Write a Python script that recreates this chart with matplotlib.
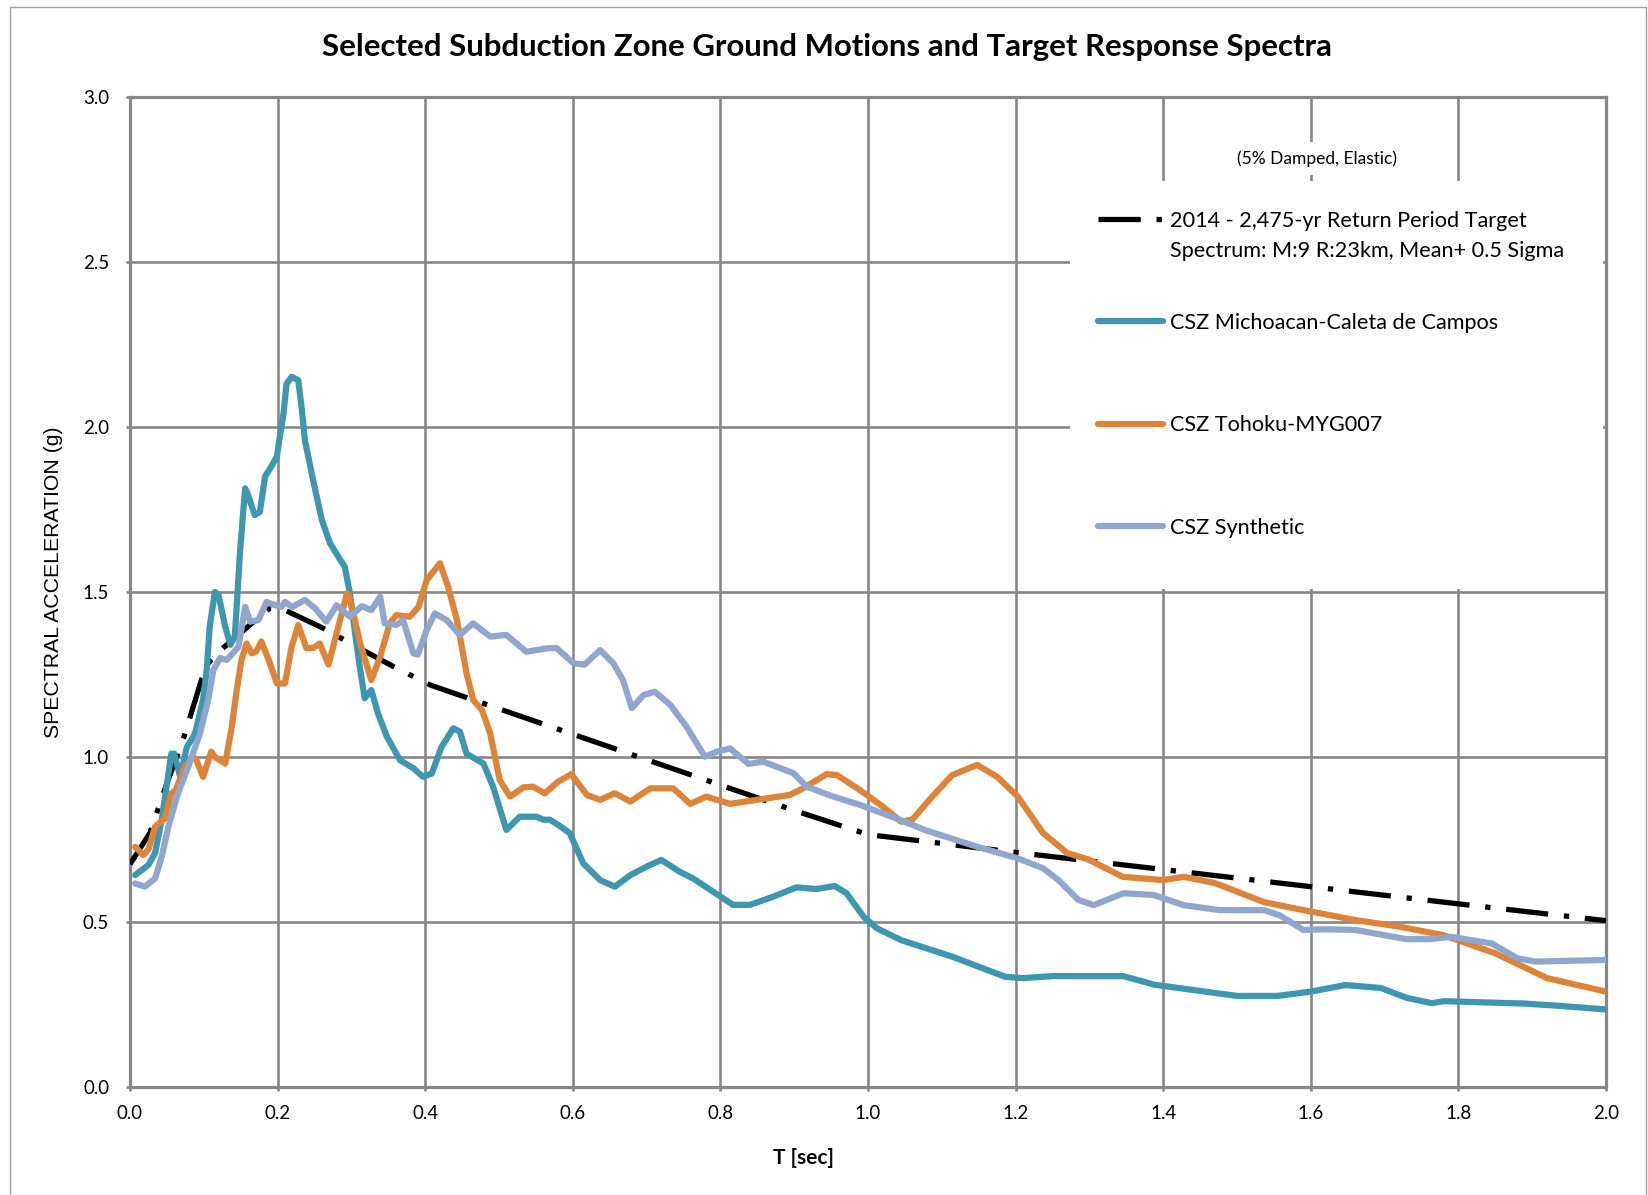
import matplotlib
matplotlib.use("Agg")
import matplotlib.pyplot as plt
from matplotlib.patches import Rectangle
from matplotlib.ticker import FixedLocator, FormatStrFormatter

plt.rcParams['font.family'] = ['Lato', 'DejaVu Sans']

# ---------------- text ----------------
title = "Selected Subduction Zone Ground Motions and Target Response Spectra"
x_label = "T [sec]"
y_label = "SPECTRAL ACCELERATION (g)"
note = "(5% Damped, Elastic)"
target_label_1 = "2014 - 2,475-yr Return Period Target"
target_label_2 = "Spectrum: M:9 R:23km, Mean+ 0.5 Sigma"
mich_label = "CSZ Michoacan-Caleta de Campos"
toh_label = "CSZ Tohoku-MYG007"
syn_label = "CSZ Synthetic"

x_ticks = [0.0, 0.2, 0.4, 0.6, 0.8, 1.0, 1.2, 1.4, 1.6, 1.8, 2.0]
y_ticks = [0.0, 0.5, 1.0, 1.5, 2.0, 2.5, 3.0]

# ---------------- data ----------------
target_T = [0.0, 0.027, 0.05, 0.073, 0.097, 0.108, 0.126, 0.165, 0.19, 0.21, 0.262,
            0.307, 0.357, 0.407, 0.5, 0.6, 0.7, 0.8, 0.9, 1.0, 1.2, 1.4, 1.6, 1.8, 2.0]
target_Sa = [0.675, 0.77, 0.92, 1.06, 1.235, 1.29, 1.33, 1.405, 1.452, 1.445, 1.39,
             1.334, 1.274, 1.218, 1.146, 1.069, 0.992, 0.915, 0.838, 0.765, 0.711,
             0.659, 0.607, 0.555, 0.504]

mich_T = [0.007, 0.025, 0.034, 0.043, 0.056, 0.06, 0.068, 0.077, 0.088, 0.099, 0.104,
          0.108, 0.115, 0.12, 0.129, 0.136, 0.142, 0.147, 0.149, 0.156, 0.159, 0.169,
          0.176, 0.183, 0.19, 0.199, 0.203, 0.208, 0.212, 0.219, 0.228, 0.233, 0.237,
          0.248, 0.26, 0.271, 0.285, 0.291, 0.298, 0.305, 0.312, 0.318, 0.327, 0.336,
          0.348, 0.366, 0.384, 0.397, 0.409, 0.422, 0.438, 0.447, 0.456, 0.479, 0.492,
          0.51, 0.528, 0.551, 0.56, 0.569, 0.583, 0.596, 0.614, 0.637, 0.657, 0.678,
          0.70, 0.72, 0.745, 0.763, 0.79, 0.817, 0.84, 0.872, 0.903, 0.93, 0.955, 0.971,
          0.994, 1.012, 1.045, 1.114, 1.186, 1.21, 1.25, 1.346, 1.388, 1.457, 1.5,
          1.555, 1.6, 1.647, 1.695, 1.73, 1.764, 1.78, 1.826, 1.888, 1.93, 2.0]
mich_Sa = [0.642, 0.673, 0.709, 0.81, 1.01, 1.01, 0.94, 1.03, 1.07, 1.173, 1.264,
           1.395, 1.50, 1.49, 1.395, 1.34, 1.365, 1.544, 1.62, 1.814, 1.80, 1.733,
           1.743, 1.85, 1.875, 1.91, 1.97, 2.04, 2.13, 2.152, 2.142, 2.05, 1.96,
           1.84, 1.718, 1.648, 1.597, 1.577, 1.496, 1.375, 1.264, 1.178, 1.203, 1.132,
           1.062, 0.99, 0.966, 0.94, 0.95, 1.03, 1.087, 1.077, 1.01, 0.98, 0.91,
           0.779, 0.819, 0.819, 0.81, 0.81, 0.79, 0.769, 0.678, 0.627, 0.607, 0.642,
           0.668, 0.688, 0.652, 0.632, 0.592, 0.552, 0.552, 0.577, 0.605, 0.60, 0.609, 0.587,
           0.516, 0.481, 0.445, 0.395, 0.334, 0.33, 0.336, 0.336, 0.31, 0.289, 0.276,
           0.276, 0.289, 0.309, 0.30, 0.27, 0.254, 0.26, 0.257, 0.253, 0.247, 0.235]

toh_T = [0.007, 0.018, 0.025, 0.034, 0.047, 0.056, 0.062, 0.074, 0.086, 0.09, 0.099,
         0.11, 0.115, 0.129, 0.138, 0.144, 0.151, 0.158, 0.165, 0.171, 0.178, 0.188,
         0.199, 0.21, 0.219, 0.228, 0.239, 0.248, 0.257, 0.269, 0.28, 0.294, 0.297,
         0.312, 0.327, 0.339, 0.352, 0.361, 0.379, 0.391, 0.402, 0.42, 0.431, 0.443,
         0.456, 0.465, 0.477, 0.488, 0.501, 0.515, 0.533, 0.546, 0.562, 0.58, 0.598,
         0.619, 0.637, 0.657, 0.678, 0.705, 0.736, 0.759, 0.781, 0.813, 0.849, 0.894,
         0.912, 0.944, 0.958, 0.989, 1.02, 1.045, 1.06, 1.087, 1.114, 1.148, 1.175,
         1.203, 1.237, 1.27, 1.298, 1.345, 1.4, 1.428, 1.47, 1.537, 1.59, 1.66, 1.72,
         1.78, 1.85, 1.92, 2.0]
toh_Sa = [0.728, 0.703, 0.72, 0.789, 0.814, 0.89, 0.90, 0.97, 1.0, 0.99, 0.94,
          1.016, 1.0, 0.98, 1.092, 1.193, 1.294, 1.344, 1.314, 1.32, 1.35, 1.294,
          1.223, 1.223, 1.334, 1.40, 1.33, 1.33, 1.344, 1.28, 1.375, 1.496, 1.49,
          1.344, 1.233, 1.304, 1.405, 1.43, 1.425, 1.455, 1.536, 1.587, 1.516, 1.415,
          1.254, 1.173, 1.142, 1.072, 0.93, 0.88, 0.908, 0.91, 0.89, 0.925, 0.948,
          0.885, 0.87, 0.89, 0.865, 0.905, 0.905, 0.858, 0.88, 0.858, 0.87, 0.885,
          0.905, 0.948, 0.945, 0.90, 0.85, 0.804, 0.81, 0.88, 0.945, 0.976, 0.94,
          0.88, 0.77, 0.709, 0.69, 0.637, 0.627, 0.637, 0.618, 0.56, 0.536, 0.506, 0.486,
          0.46, 0.405, 0.33, 0.289]

syn_T = [0.007, 0.02, 0.034, 0.043, 0.052, 0.065, 0.079, 0.095, 0.106, 0.113, 0.122,
         0.131, 0.147, 0.156, 0.163, 0.174, 0.185, 0.19, 0.205, 0.21, 0.22, 0.237,
         0.251, 0.266, 0.28, 0.298, 0.314, 0.327, 0.339, 0.345, 0.361, 0.37, 0.384,
         0.39, 0.402, 0.413, 0.429, 0.447, 0.465, 0.488, 0.51, 0.537, 0.564, 0.578,
         0.601, 0.616, 0.637, 0.655, 0.668, 0.68, 0.696, 0.711, 0.732, 0.754, 0.768,
         0.779, 0.795, 0.813, 0.838, 0.858, 0.899, 0.917, 0.953, 0.989, 1.037, 1.078,
         1.148, 1.203, 1.237, 1.258, 1.285, 1.306, 1.346, 1.387, 1.428, 1.476, 1.537,
         1.558, 1.59, 1.62, 1.66, 1.73, 1.76, 1.79, 1.845, 1.88, 1.905, 2.0]
syn_Sa = [0.617, 0.607, 0.632, 0.698, 0.789, 0.89, 0.971, 1.072, 1.173, 1.264, 1.30,
          1.294, 1.334, 1.455, 1.41, 1.415, 1.47, 1.465, 1.455, 1.47, 1.455, 1.476,
          1.45, 1.41, 1.46, 1.425, 1.457, 1.445, 1.486, 1.405, 1.40, 1.415, 1.314,
          1.31, 1.385, 1.435, 1.415, 1.37, 1.405, 1.365, 1.37, 1.319, 1.329, 1.33,
          1.284, 1.28, 1.324, 1.284, 1.233, 1.148, 1.188, 1.198, 1.158, 1.092, 1.041,
          1.001, 1.016, 1.026, 0.979, 0.986, 0.951, 0.91, 0.88, 0.855, 0.815, 0.778,
          0.728, 0.693, 0.663, 0.627, 0.567, 0.551, 0.587, 0.582, 0.551, 0.536, 0.536,
          0.52, 0.476, 0.478, 0.476, 0.448, 0.448, 0.455, 0.435, 0.39, 0.38, 0.385]

# ---------------- style ----------------
C_MICH = '#3F97AF'
C_TOH = '#DC843A'
C_SYN = '#91A6CD'
C_GRID = '#878787'

W, H = 1648, 1195
fig = plt.figure(figsize=(W / 100, H / 100), dpi=100)
fig.patch.set_facecolor('white')
# chart-area frame
fig.add_artist(Rectangle((10 / W, -0.01), (1646 - 10) / W, 1 - 7 / H + 0.01,
                         transform=fig.transFigure, facecolor='none',
                         edgecolor='#A0A0A0', lw=1.0))

L, R, T, B = 130, 1606, 97, 1087
ax = fig.add_axes([L / W, 1 - B / H, (R - L) / W, (B - T) / H])

lt, = ax.plot(target_T, target_Sa, color='black', lw=3.8,
              linestyle=(0, (8, 3, 1, 3)), dash_capstyle='butt', zorder=3,
              label=target_label_1)
lm, = ax.plot(mich_T, mich_Sa, color=C_MICH, lw=4.5, zorder=4,
              solid_joinstyle='round', solid_capstyle='round', label=mich_label)
lo, = ax.plot(toh_T, toh_Sa, color=C_TOH, lw=4.5, zorder=5,
              solid_joinstyle='round', solid_capstyle='round', label=toh_label)
ls, = ax.plot(syn_T, syn_Sa, color=C_SYN, lw=4.5, zorder=6,
              solid_joinstyle='round', solid_capstyle='round', label=syn_label)

ax.set_xlim(0, 2.0)
ax.set_ylim(0, 3.0)
ax.xaxis.set_major_locator(FixedLocator(x_ticks))
ax.yaxis.set_major_locator(FixedLocator(y_ticks))
ax.xaxis.set_major_formatter(FormatStrFormatter('%.1f'))
ax.yaxis.set_major_formatter(FormatStrFormatter('%.1f'))
ax.set_axisbelow(True)
ax.grid(True, color=C_GRID, lw=1.9)
for s in ax.spines.values():
    s.set_color(C_GRID)
    s.set_linewidth(2.3)
ax.tick_params(axis='both', direction='out', length=3, width=1.9, color=C_GRID,
               labelsize=13.5, labelcolor='black')
ax.tick_params(axis='x', pad=10)
ax.tick_params(axis='y', pad=12)

ax.set_xlabel(x_label, fontsize=15, fontweight='bold')
ax.xaxis.label.set_va('center')
ax.xaxis.set_label_coords(0.4566, -0.0717)
ax.set_ylabel(y_label, fontsize=15.3, family=['Liberation Sans', 'DejaVu Sans'])
ax.yaxis.label.set_va('center')
ax.yaxis.set_label_coords(-0.0515, 0.5096)

fig.text(0.502, 1 - 47 / H, title, ha='center', va='center', fontsize=22.4,
         fontweight='bold')

# legend area (white background covering the grid)
ax.add_patch(Rectangle((0.637, 0.503), 0.361, 0.412, transform=ax.transAxes,
                       facecolor='white', edgecolor='none', zorder=1))
ax.text(0.804, 0.938, note, transform=ax.transAxes, ha='center', va='center',
        fontsize=12.5, zorder=2,
        bbox=dict(facecolor='white', edgecolor='none', pad=6))

fs = 15.6
fpx = fs * 100 / 72
leg = ax.legend(handles=[lt, lm, lo, ls], loc='upper left',
                bbox_to_anchor=(0.656, 0.8853), frameon=False, fontsize=fs,
                handlelength=65 / fpx, handletextpad=7 / fpx,
                labelspacing=3.8, borderpad=0, borderaxespad=0)
leg.set_zorder(7)
ax.text(0.7046, 0.8445, target_label_2, transform=ax.transAxes, ha='left',
        va='center', fontsize=fs, zorder=7)

fig.savefig('out.png', dpi=100, facecolor='white')
